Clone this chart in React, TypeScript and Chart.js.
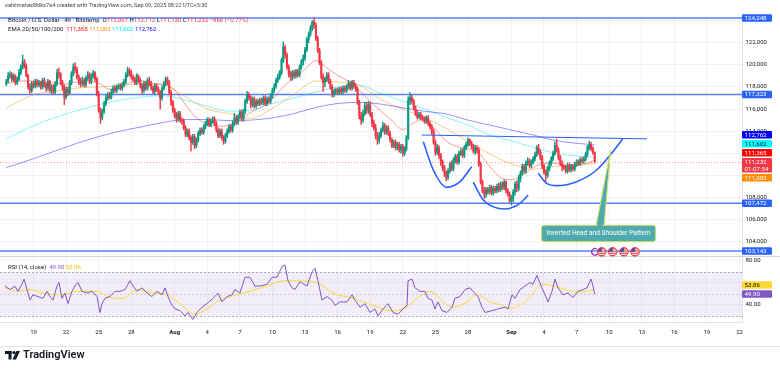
import React, { useEffect, useRef } from 'react';
import { Chart, registerables } from 'chart.js';

Chart.register(...registerables);

// ================= DATA =================
// Time unit: days since 1 Jul 2025 00:00 (chart-local). Prices in thousand USD.
const candleStart = 15.5;
const candlesPerDay = 6;
const firstOpen = 118.3;

const closes = [
  118.5, 119.0,
  119.1, 118.7, 119.0, 118.4, 118.7, 119.3,
  119.8, 120.3, 119.9, 119.0, 118.0, 117.7,
  118.3, 118.1, 118.5, 118.2, 118.4, 118.0,
  118.6, 118.2, 117.9, 118.5, 117.7, 118.0,
  117.6, 118.3, 119.3, 119.1, 118.4, 118.0,
  117.1, 117.8, 117.5, 118.4, 119.2, 119.8,
  119.6, 118.9, 118.5, 118.3, 118.6, 118.2,
  118.8, 119.1, 118.5, 119.0, 119.3, 118.7,
  117.4, 115.9, 115.2, 115.8, 116.5, 117.0,
  117.3, 117.1, 117.6, 117.9, 117.7, 118.0,
  118.1, 117.9, 118.2, 118.5, 119.1, 119.5,
  119.3, 118.9, 118.7, 118.4, 119.0, 118.6,
  118.1, 117.7, 118.3, 117.9, 118.6, 118.3,
  117.9, 117.6, 118.1, 117.8, 117.5, 117.0,
  117.9, 118.3, 118.7, 118.4, 117.5, 116.6,
  115.9, 115.4, 115.1, 115.6, 115.0, 114.9,
  114.3, 113.7, 114.0, 113.4, 113.0, 113.5,
  112.7, 113.2, 113.8, 114.1, 113.9, 114.4,
  114.7, 115.0, 114.6, 114.9, 115.1, 114.7,
  114.1, 113.6, 114.0, 113.4, 113.1, 113.6,
  114.0, 114.4, 114.1, 114.7, 115.2, 114.8,
  115.3, 115.7, 115.1, 115.8, 116.7, 117.3,
  117.0, 116.4, 116.9, 116.3, 116.7, 116.5,
  116.8, 116.6, 117.0, 116.5, 116.9, 116.7,
  117.2, 117.7, 118.1, 118.6, 118.9, 119.3,
  120.4, 121.6, 120.9, 119.8, 119.1, 118.9,
  119.3, 119.0, 119.4, 119.1, 119.8, 120.3,
  120.6, 121.4, 122.3, 122.8, 123.3, 123.9,
  123.6, 122.4, 121.3, 120.2, 118.9, 118.4,
  118.7, 119.1, 118.5, 118.0, 117.4, 117.6,
  117.7, 117.5, 117.8, 117.6, 117.9, 117.7,
  118.0, 118.3, 117.9, 118.4, 118.1, 117.8,
  116.6, 115.4, 115.0, 115.6, 116.3, 115.9,
  116.4, 115.5, 114.7, 114.3, 113.6, 113.2,
  113.6, 114.1, 114.5, 113.9, 114.3, 113.8,
  113.2, 112.7, 113.0, 112.5, 112.8, 112.3,
  112.6, 112.0, 112.4, 113.4, 116.8, 117.0,
  116.7, 116.1, 115.6, 115.3, 115.5, 115.2,
  115.1, 114.9, 115.2, 114.7, 114.4, 114.0,
  113.0, 112.1, 112.5, 111.8, 111.2, 110.7,
  110.2, 109.8, 110.4, 111.0, 110.6, 111.4,
  111.7, 111.2, 112.0, 112.2, 111.8, 112.5,
  112.8, 113.2, 112.9, 112.6, 112.2, 112.5,
  112.3, 111.0, 109.4, 108.6, 108.3, 108.7,
  108.5, 108.9, 108.4, 108.8, 108.6, 109.0,
  108.7, 109.2, 108.9, 109.4, 108.6, 108.3,
  107.7, 107.9, 108.5, 109.2, 108.8, 109.7,
  110.2, 110.8, 110.4, 111.1, 111.3, 110.9,
  111.2, 111.5, 111.9, 112.5, 112.1, 111.6,
  110.8, 110.3, 110.0, 110.6, 111.1, 111.5,
  112.0, 112.7, 112.3, 111.6, 111.1, 110.8,
  110.7, 110.4, 110.9, 110.5, 110.8, 110.6,
  111.0, 111.2, 111.1, 111.4, 111.3, 111.5,
  111.9, 112.5, 112.8, 112.4, 112.097, 111.232,
];

const highs = [
  118.7, 119.3,
  119.4, 119.3, 119.2, 119.1, 118.9, 119.6,
  120.0, 120.9, 120.5, 120.1, 119.2, 118.3,
  118.5, 118.5, 118.7, 118.7, 118.6, 118.5,
  118.8, 118.8, 118.4, 118.7, 118.6, 118.2,
  118.2, 118.5, 119.6, 119.7, 119.3, 118.6,
  118.2, 118.0, 118.0, 118.6, 119.4, 120.1,
  120.2, 119.8, 119.1, 118.8, 118.9, 118.8,
  119.0, 119.4, 119.3, 119.2, 119.5, 119.4,
  118.9, 117.6, 116.1, 116.0, 116.7, 117.3,
  117.5, 117.5, 117.8, 118.1, 118.1, 118.2,
  118.3, 118.3, 118.4, 118.7, 119.3, 119.8,
  119.7, 119.5, 119.1, 118.9, 119.2, 119.1,
  118.8, 118.3, 118.5, 118.5, 118.8, 118.9,
  118.5, 118.1, 118.3, 118.3, 118.0, 117.7,
  118.1, 118.5, 118.9, 118.9, 118.6, 117.7,
  116.8, 116.1, 115.7, 115.8, 115.8, 115.2,
  115.1, 114.5, 114.2, 114.2, 113.6, 113.7,
  113.7, 113.4, 114.0, 114.3, 114.3, 114.6,
  114.9, 115.2, 115.2, 115.1, 115.3, 115.3,
  114.9, 114.3, 114.2, 114.2, 113.6, 113.8,
  114.2, 114.6, 114.6, 114.9, 115.6, 115.4,
  115.5, 115.9, 115.9, 116.0, 116.9, 117.6,
  117.5, 117.2, 117.1, 117.1, 116.9, 116.9,
  117.0, 117.0, 117.2, 117.2, 117.1, 117.1,
  117.4, 117.9, 118.3, 118.8, 119.2, 119.5,
  120.6, 122.1, 121.8, 121.1, 120.0, 119.4,
  119.5, 119.5, 119.6, 119.6, 120.0, 120.5,
  120.9, 121.6, 122.5, 123.0, 123.6, 124.0,
  124.248, 123.8, 122.6, 121.5, 120.4, 119.2,
  118.9, 119.3, 119.3, 118.7, 118.2, 117.8,
  117.9, 117.9, 118.0, 118.0, 118.1, 118.1,
  118.2, 118.6, 118.5, 118.6, 118.6, 118.3,
  118.0, 116.8, 115.7, 115.9, 116.6, 116.6,
  116.7, 116.6, 115.7, 115.0, 114.6, 113.9,
  113.9, 114.3, 114.8, 114.7, 114.5, 114.5,
  114.0, 113.4, 113.2, 113.2, 113.0, 113.0,
  112.8, 112.8, 112.6, 113.6, 117.1, 117.5,
  117.3, 116.9, 116.3, 115.9, 115.7, 115.7,
  115.4, 115.3, 115.4, 115.4, 114.9, 114.6,
  114.2, 113.2, 112.8, 112.7, 112.0, 111.4,
  110.9, 110.4, 110.6, 111.2, 111.3, 111.6,
  111.9, 111.9, 112.2, 112.4, 112.4, 112.7,
  113.0, 113.4, 113.3, 113.1, 112.8, 112.7,
  112.7, 112.5, 111.2, 109.6, 108.9, 108.9,
  108.9, 109.1, 109.1, 109.0, 109.0, 109.2,
  109.3, 109.4, 109.4, 109.6, 109.5, 108.8,
  108.5, 108.2, 108.7, 109.4, 109.5, 110.0,
  110.4, 111.0, 111.0, 111.3, 111.6, 111.5,
  111.4, 111.7, 112.1, 112.7, 112.8, 112.3,
  111.8, 111.0, 110.5, 110.8, 111.3, 111.7,
  112.2, 113.0, 113.3, 112.5, 111.8, 111.3,
  111.0, 110.9, 111.1, 111.1, 111.0, 111.0,
  111.2, 111.4, 111.4, 111.6, 111.6, 111.7,
  112.1, 112.7, 113.1, 113.0, 112.6, 112.112,
];

const lows = [
  118.1, 118.4,
  118.8, 118.5, 118.5, 118.2, 118.2, 118.6,
  119.1, 119.6, 119.7, 118.9, 117.8, 117.4,
  117.5, 117.9, 117.9, 118.0, 118.0, 117.8,
  117.8, 118.0, 117.6, 117.7, 117.5, 117.4,
  117.3, 117.4, 118.1, 118.8, 118.2, 117.7,
  116.4, 116.9, 117.2, 117.3, 118.2, 119.0,
  119.3, 118.7, 118.2, 118.0, 118.1, 118.0,
  118.0, 118.6, 118.3, 118.3, 118.8, 118.5,
  117.2, 115.7, 114.7, 115.0, 115.6, 116.3,
  116.8, 116.9, 116.9, 117.4, 117.5, 117.5,
  117.8, 117.7, 117.7, 118.0, 118.3, 118.9,
  119.0, 118.7, 118.5, 118.2, 118.2, 118.4,
  117.9, 117.4, 117.5, 117.7, 117.7, 118.1,
  117.7, 117.4, 117.4, 117.6, 117.3, 116.0,
  116.8, 117.7, 118.1, 118.2, 117.3, 116.3,
  115.7, 115.2, 114.8, 114.9, 114.8, 114.6,
  114.1, 113.5, 113.5, 113.2, 112.2, 112.8,
  112.4, 112.5, 113.0, 113.6, 113.7, 113.7,
  114.2, 114.5, 114.4, 114.4, 114.7, 114.5,
  113.9, 113.4, 113.4, 113.2, 112.8, 112.9,
  113.4, 113.8, 113.9, 113.9, 114.5, 114.6,
  114.6, 115.1, 114.9, 114.9, 115.6, 116.5,
  116.8, 116.1, 116.2, 116.1, 116.1, 116.3,
  116.3, 116.4, 116.4, 116.3, 116.3, 116.5,
  116.5, 117.0, 117.5, 117.9, 118.4, 118.7,
  119.1, 120.2, 120.6, 119.6, 118.9, 118.6,
  118.6, 118.8, 118.8, 118.9, 118.9, 119.6,
  120.0, 120.4, 121.2, 122.0, 122.6, 123.1,
  123.3, 122.2, 121.1, 120.0, 118.7, 117.6,
  118.0, 118.5, 118.3, 117.8, 117.1, 117.1,
  117.3, 117.3, 117.3, 117.4, 117.4, 117.5,
  117.5, 117.8, 117.7, 117.7, 117.9, 117.6,
  116.4, 115.1, 114.6, 114.8, 115.4, 115.6,
  115.6, 115.3, 114.4, 114.1, 113.3, 112.8,
  112.9, 113.4, 113.9, 113.7, 113.7, 113.6,
  113.0, 112.5, 112.5, 112.3, 112.3, 112.1,
  112.0, 111.7, 111.8, 112.2, 113.2, 116.4,
  116.5, 115.9, 115.4, 115.1, 115.1, 115.0,
  114.9, 114.7, 114.7, 114.5, 114.2, 113.7,
  112.8, 111.8, 111.9, 111.5, 110.9, 110.4,
  109.9, 109.5, 109.6, 110.2, 110.4, 110.4,
  111.1, 111.0, 111.0, 111.8, 111.6, 111.6,
  112.3, 112.6, 112.7, 112.4, 112.0, 111.9,
  112.0, 110.8, 109.2, 108.4, 107.9, 108.0,
  108.3, 108.3, 108.2, 108.2, 108.4, 108.4,
  108.5, 108.5, 108.7, 108.7, 108.4, 108.1,
  107.5, 107.3, 107.6, 108.2, 108.5, 108.6,
  109.4, 110.0, 110.2, 110.2, 110.9, 110.7,
  110.7, 111.0, 111.3, 111.7, 111.9, 111.4,
  110.6, 110.1, 109.5, 109.8, 110.4, 110.9,
  111.3, 111.8, 112.1, 111.4, 110.9, 110.4,
  110.5, 110.2, 110.2, 110.3, 110.3, 110.4,
  110.4, 110.8, 110.9, 110.9, 111.1, 111.1,
  111.3, 111.7, 112.3, 112.2, 111.9, 111.130,
];

const emaDailyTimes = [
  15.5, 16, 17, 18, 19, 20, 21, 22, 23, 24, 25, 26, 27, 28, 29, 30, 31, 32, 33, 34,
  35, 36, 37, 38, 39, 40, 41, 42, 43, 44, 45, 46, 47, 48, 49, 50, 51, 52, 53, 54,
  55, 56, 57, 58, 59, 60, 61, 62, 63, 64, 65, 66, 67, 68, 69, 69.67,
];
const ema20 = [
  118.3, 118.4, 118.55, 118.55, 118.45, 118.35, 118.25, 118.45, 118.45, 118.35,
  117.8, 117.9, 118.45, 118.55, 118.3, 118.2, 117.7, 116.4, 115.2, 114.65,
  114.45, 114.5, 115.05, 115.7, 116.2, 116.9, 118.0, 118.85, 119.6, 120.4,
  119.75, 119.05, 118.5, 117.7, 116.7, 115.8, 114.95, 114.15, 114.75, 115.1,
  114.15, 113.1, 112.6, 112.4, 112.0, 110.8, 109.8, 109.6, 110.0, 110.7,
  111.1, 111.1, 110.8, 110.9, 111.1, 111.365,
];

const emaCoarseTimes = [
  15.5, 18, 20, 22, 24, 26, 28, 30, 32, 34, 36, 38, 40, 42,
  44, 46, 48, 50, 52, 54, 56, 58, 60, 62, 64, 66, 68, 69.67,
];
const ema50 = [
  116.1, 117.3, 117.6, 117.9, 118.0, 118.15, 118.3, 118.2, 117.1, 116.0, 115.6, 115.15, 116.05, 117.35,
  118.55, 118.45, 118.15, 116.85, 116.0, 115.2, 114.25, 113.05, 111.95, 111.05, 110.55, 110.8, 110.9, 111.083,
];
const ema100 = [
  113.3, 114.5, 115.25, 115.85, 116.4, 116.8, 117.1, 117.2, 116.8, 116.25, 115.8, 115.9, 116.5, 117.0,
  117.55, 118.0, 118.15, 117.4, 116.7, 116.0, 115.25, 114.55, 113.65, 113.1, 112.55, 112.0, 111.75, 111.602,
];
const ema200 = [
  110.7, 111.5, 112.2, 112.9, 113.5, 114.0, 114.4, 114.8, 115.05, 115.05, 114.95, 115.0, 115.2, 115.6,
  116.15, 116.5, 116.6, 116.45, 116.1, 115.8, 115.55, 115.0, 114.55, 114.1, 113.65, 113.15, 112.9, 112.762,
];

const rsiTimes = [
  15.38, 15.84, 16.30, 16.57, 16.94, 17.13, 17.40, 17.68, 17.95, 18.41,
  18.87, 19.24, 19.52, 19.80, 20.16, 20.35, 20.62, 20.90, 21.18, 21.54,
  21.91, 22.10, 22.47, 22.93, 23.39, 23.85, 24.12, 24.31, 24.58, 25.04,
  25.50, 25.96, 26.42, 26.88, 27.16, 27.53, 27.99, 28.45, 28.91, 29.37,
  29.83, 30.11, 30.38, 30.75, 31.03, 31.49, 31.95, 32.22, 32.68, 33.05,
  33.51, 33.97, 34.53, 34.99, 35.35, 35.81, 36.27, 36.55, 37.01, 37.47,
  37.93, 38.39, 38.85, 39.50, 39.96, 40.42, 40.88, 41.15, 41.43, 41.80,
  42.07, 42.53, 43.18, 43.64, 43.92, 44.19, 44.56, 45.02, 45.48, 45.76,
  46.22, 46.86, 47.32, 47.60, 48.06, 48.52, 48.98, 49.44, 49.72, 50.18,
  50.64, 51.10, 51.56, 52.02, 52.39, 52.48, 52.85, 53.12, 53.58, 54.04,
  54.32, 54.69, 54.96, 55.24, 55.61, 56.07, 56.53, 56.80, 57.27, 57.73,
  58.19, 58.46, 58.92, 59.29, 59.57, 60.21, 60.77, 61.41, 61.69, 62.05,
  62.33, 62.79, 63.25, 63.71, 63.98, 64.35, 64.81, 65.37, 65.74, 66.01,
  66.29, 66.75, 67.21, 67.67, 68.13, 68.59, 68.96, 69.33, 69.51, 69.67,
];
const rsiValues = [
  57.2, 54, 57, 52.4, 58.8, 63.6, 54, 44.4, 49.2, 47.6,
  46, 52.4, 47.6, 44.4, 57.2, 60.4, 46, 50.8, 41.2, 52.4,
  58.8, 60.4, 52.4, 50.8, 52.4, 47.6, 33.2, 41.2, 46, 47.6,
  52.4, 52.4, 54, 62, 57.2, 52.4, 55.6, 50.8, 47.6, 52.4,
  49.2, 55.6, 47.6, 39.6, 36.4, 34.8, 30, 33.2, 26.8, 33.2,
  38, 41.2, 46, 50.8, 42.8, 47.6, 49.2, 54, 50.8, 65.2,
  65.2, 57.2, 57.2, 58.8, 65.2, 65.2, 74.8, 76.4, 62, 55.6,
  54, 61, 57.2, 70, 73.2, 62, 44.4, 47.6, 44.4, 39.6,
  42.8, 42.8, 49.2, 44.4, 38, 41.2, 33.2, 36.4, 30, 36.4,
  41.2, 33.2, 31.6, 36.4, 39.6, 62, 63.6, 55.6, 52.4, 52.4,
  46, 44.4, 36.4, 42.8, 34.8, 33.2, 38, 46, 47.6, 54,
  55.6, 52.4, 47.6, 38, 33.2, 34.8, 36.4, 38, 36.4, 49.2,
  46, 54, 57.2, 60.4, 58.8, 66.8, 55.6, 42.8, 52.4, 63.6,
  55.6, 49.2, 50.8, 46.8, 52.4, 54, 55.6, 63.6, 57.2, 49.9,
];
const rsiMaTimes = [
  15.38, 16.48, 17.68, 18.87, 20.44, 22.00, 23.85, 25.04, 26.24, 27.53,
  28.73, 30.29, 31.49, 32.87, 33.97, 35.17, 36.37, 37.93, 39.50, 40.97,
  42.53, 44.10, 45.57, 47.41, 49.26, 50.82, 52.02, 53.31, 54.50, 55.70,
  56.62, 57.91, 58.83, 60.03, 61.22, 61.87, 63.43, 64.91, 66.47, 68.04, 69.67,
];
const rsiMaValues = [
  55.6, 52.4, 54, 50.8, 49.2, 52.4, 52.4, 46.8, 46, 54,
  51.4, 49.2, 41.2, 31.6, 36.4, 44.4, 48.2, 52.4, 57.2, 62,
  62, 60.4, 50.8, 46, 39.6, 34.8, 36.4, 46, 52.4, 42.8,
  38, 42.8, 49.2, 42.8, 39.6, 37, 44.4, 58.8, 55.6, 51.4, 53.86,
];

// Drawn levels and pattern (time, price)
const levelPrices = [124.248, 117.323, 107.472, 103.143];
const necklineTimes = [53.74, 74.48];
const necklinePrices = [113.65, 113.3];
const leftShoulderTimes = [53.89, 54.81, 56.04, 57.27, 58.34];
const leftShoulderPrices = [113.04, 110.48, 108.91, 109.42, 110.78];
const headTimes = [58.49, 59.41, 61.41, 62.79, 63.55];
const headPrices = [109.37, 107.76, 106.95, 107.46, 108.21];
const rightShoulderTimes = [64.47, 65.25, 66.17, 68.01, 69.85, 71.23, 72.24];
const rightShoulderPrices = [110.18, 109.27, 109.06, 109.42, 110.48, 111.99, 113.29];
const calloutText = 'Inverted Head and Shoulder Pattern';
const calloutTip = [71.14, 112.29];
const calloutCenter = [70.02, 104.73];
const eventTimes = [70.31, 71.32, 72.36, 73.38];
const eventMarkerTime = 69.69;

// Axes
const xTickValues = [18, 21, 24, 27, 31, 34, 37, 40, 43, 46, 49, 52, 55, 58, 62, 65, 68, 71, 74, 77, 80, 83];
const xTickLabels = ['19', '22', '25', '28', 'Aug', '4', '7', '10', '13', '16', '19', '22', '25', '28', 'Sep', '4', '7', '10', '13', '16', '19', '22'];
const monthLabels = ['Aug', 'Sep'];
const priceTickValues = [104, 106, 108, 110, 112, 114, 116, 118, 120, 122, 124];
const hiddenPriceTicks = [110, 112, 124];
const rsiTickValues = [40, 60, 80];
const hiddenRsiTicks = [60];
const rsiBand = [30, 50, 70];

// Texts
const headerText = 'sahilmahad8dks7a4 created with TradingView.com, Sep 09, 2025 08:22 UTC+5:30';
const symbolText = 'Bitcoin / U.S. Dollar · 4h · Bitstamp';
const changeText = '−866 (−0.77%)';
const countdownText = '01:07:54';

// ================= STYLE =================
const FONT = 'Roboto, "Noto Sans", "DejaVu Sans", sans-serif';
const TEXT = '#131722';
const UP = '#089981';
const DOWN = '#f23645';
const GRID = 'rgba(42,46,57,0.06)';
const LEVEL = '#2962ff';
const C20 = '#ff0000', C50 = '#ff8c00', C100 = '#00e5ff', C200 = '#0000ff';
const RSI_C = '#7e57c2', RSIMA_C = '#fdd835';

const X_MIN = 14.916, X_MAX = 83.23;
const PRICE_MIN = 102.69, PRICE_MAX = 124.70;
const RSI_MIN = 24.5, RSI_MAX = 84.5;

const fmtPrice = (v: number) => Math.round(v * 1000).toLocaleString('en-US');
const pts = (ts: number[], vs: number[]) => ts.map((t, i) => ({ x: t, y: vs[i] }));

function resolveLabels(items: any[]) {
  const GAP = 1.4;
  const s = items.slice().sort((a, b) => a.y - b.y);
  s.forEach((it) => (it.cy = it.y));
  let fi = s.findIndex((it) => it.fixed);
  if (fi < 0) fi = 0;
  for (let k = fi - 1; k >= 0; k--) {
    const nb = s[k + 1], it = s[k];
    const limit = nb.cy - nb.up - GAP;
    if (it.cy + it.down > limit) it.cy = limit - it.down;
  }
  for (let k = fi + 1; k < s.length; k++) {
    const pa = s[k - 1], it = s[k];
    const limit = pa.cy + pa.down + GAP;
    if (it.cy - it.up < limit) it.cy = limit + it.up;
  }
  return s;
}

function rrect(ctx: any, x: number, y: number, w: number, h: number, r: number) {
  ctx.beginPath();
  ctx.moveTo(x + r, y);
  ctx.lineTo(x + w - r, y);
  ctx.quadraticCurveTo(x + w, y, x + w, y + r);
  ctx.lineTo(x + w, y + h - r);
  ctx.quadraticCurveTo(x + w, y + h, x + w - r, y + h);
  ctx.lineTo(x + r, y + h);
  ctx.quadraticCurveTo(x, y + h, x, y + h - r);
  ctx.lineTo(x, y + r);
  ctx.quadraticCurveTo(x, y, x + r, y);
  ctx.closePath();
}

function drawParts(ctx: any, parts: any[], x: number, y: number) {
  let cx = x;
  parts.forEach(([t, c]) => {
    ctx.fillStyle = c;
    ctx.fillText(t, cx, y);
    cx += ctx.measureText(t).width;
  });
}

export default function App() {
  const ref = useRef<HTMLCanvasElement>(null);

  useEffect(() => {
    const canvas = ref.current;
    if (!canvas) return;

    const n = closes.length;
    const times = closes.map((_, i) => candleStart + i / candlesPerDay);
    const opens = closes.map((_, i) => (i === 0 ? firstOpen : closes[i - 1]));
    const colors = closes.map((c, i) => (c >= opens[i] ? UP : DOWN));
    const last = n - 1;

    const overlay = {
      id: 'tvOverlay',
      beforeDraw(chart: any) {
        const ctx = chart.ctx;
        ctx.save();
        ctx.fillStyle = '#ffffff';
        ctx.fillRect(0, 0, chart.width, chart.height);
        ctx.restore();
      },
      beforeDatasetsDraw(chart: any) {
        const { ctx, chartArea } = chart;
        const ys = chart.scales.y, rs = chart.scales.rsi;
        const L = chartArea.left, R = chartArea.right;
        ctx.save();
        // RSI band
        const y70 = rs.getPixelForValue(rsiBand[2]);
        const y30 = rs.getPixelForValue(rsiBand[0]);
        ctx.fillStyle = 'rgba(126,87,194,0.1)';
        ctx.fillRect(L, y70, R - L, y30 - y70);
        ctx.lineWidth = 1;
        ctx.setLineDash([2, 2]);
        ctx.strokeStyle = 'rgba(120,123,134,0.6)';
        [rsiBand[2], rsiBand[0]].forEach((v) => {
          const py = Math.round(rs.getPixelForValue(v)) + 0.5;
          ctx.beginPath(); ctx.moveTo(L, py); ctx.lineTo(R, py); ctx.stroke();
        });
        ctx.strokeStyle = 'rgba(120,123,134,0.3)';
        const y50 = Math.round(rs.getPixelForValue(rsiBand[1])) + 0.5;
        ctx.beginPath(); ctx.moveTo(L, y50); ctx.lineTo(R, y50); ctx.stroke();
        // current price line
        ctx.setLineDash([1, 2]);
        ctx.strokeStyle = 'rgba(242,54,69,0.55)';
        const cp = Math.round(ys.getPixelForValue(closes[last])) + 0.5;
        ctx.beginPath(); ctx.moveTo(L, cp); ctx.lineTo(R, cp); ctx.stroke();
        ctx.setLineDash([]);
        // horizontal levels
        ctx.strokeStyle = 'rgba(41,98,255,0.8)';
        ctx.lineWidth = 1.6;
        levelPrices.forEach((p) => {
          const py = ys.getPixelForValue(p);
          ctx.beginPath(); ctx.moveTo(L, py); ctx.lineTo(R, py); ctx.stroke();
        });
        ctx.restore();
      },
      afterDatasetsDraw(chart: any) {
        const { ctx } = chart;
        const xs = chart.scales.x, ys = chart.scales.y;
        ctx.save();
        // pane separator
        ctx.strokeStyle = '#d1d4dc';
        ctx.lineWidth = 1;
        const sep = Math.round(ys.bottom) + 0.5;
        ctx.beginPath(); ctx.moveTo(0, sep); ctx.lineTo(chart.width, sep); ctx.stroke();
        const bot = Math.round(chart.scales.x.bottom) + 0.5;
        ctx.strokeStyle = '#e0e3eb';
        ctx.beginPath(); ctx.moveTo(0, bot); ctx.lineTo(chart.width, bot); ctx.stroke();

        // event icons
        const iy = ys.bottom - 4.2;
        const mx = xs.getPixelForValue(eventMarkerTime);
        ctx.strokeStyle = '#9c27b0';
        ctx.lineWidth = 1.2;
        ctx.beginPath(); ctx.arc(mx, iy, 3.2, 0.6, Math.PI * 1.7); ctx.stroke();
        eventTimes.forEach((t) => {
          const cx = xs.getPixelForValue(t);
          const r = 4.3;
          ctx.save();
          ctx.beginPath(); ctx.arc(cx, iy, r, 0, Math.PI * 2);
          ctx.fillStyle = '#ffffff'; ctx.fill();
          ctx.clip();
          ctx.fillStyle = '#e53935';
          for (let k = 0; k < 4; k++) ctx.fillRect(cx - r, iy - r + 0.8 + k * 2.2, 2 * r, 1.1);
          ctx.fillStyle = '#3f51b5';
          ctx.fillRect(cx - r, iy - r, r, r);
          ctx.restore();
          ctx.strokeStyle = '#f23645';
          ctx.lineWidth = 1;
          ctx.beginPath(); ctx.arc(cx, iy, r, 0, Math.PI * 2); ctx.stroke();
        });

        // callout
        const tipX = xs.getPixelForValue(calloutTip[0]);
        const tipY = ys.getPixelForValue(calloutTip[1]);
        const cx = xs.getPixelForValue(calloutCenter[0]);
        const cy = ys.getPixelForValue(calloutCenter[1]);
        ctx.font = `6.6px ${FONT}`;
        const tw = ctx.measureText(calloutText).width;
        const bw = tw + 10, bh = 16.5;
        const bx = cx - bw / 2, by = cy - bh / 2;
        ctx.fillStyle = '#4eaaad';
        ctx.strokeStyle = '#d6e06a';
        ctx.lineWidth = 1;
        ctx.beginPath();
        ctx.moveTo(cx - 2.5, by + 1);
        ctx.lineTo(tipX, tipY);
        ctx.lineTo(cx + 5.5, by + 1);
        ctx.closePath();
        ctx.fill(); ctx.stroke();
        rrect(ctx, bx, by, bw, bh, 3);
        ctx.fill(); ctx.stroke();
        ctx.beginPath();
        ctx.moveTo(cx - 1.8, by + 1.5); ctx.lineTo(cx + 4.8, by + 1.5); ctx.lineTo(cx + 1.5, by - 3);
        ctx.closePath(); ctx.fill();
        ctx.fillStyle = '#ffffff';
        ctx.textAlign = 'center';
        ctx.textBaseline = 'middle';
        ctx.fillText(calloutText, cx, cy + 0.3);
        ctx.restore();
      },
      afterDraw(chart: any) {
        const { ctx } = chart;
        const ys = chart.scales.y, rs = chart.scales.rsi;
        ctx.save();
        ctx.textBaseline = 'middle';
        ctx.textAlign = 'left';
        // header
        ctx.font = `5.6px ${FONT}`;
        ctx.fillStyle = '#434651';
        ctx.fillText(headerText, 5, 6);
        // legend 1
        ctx.font = `6px ${FONT}`;
        drawParts(ctx, [
          [symbolText + '  ', TEXT], ['O', TEXT], [fmtPrice(opens[last]), DOWN],
          [' H', TEXT], [fmtPrice(highs[last]), DOWN], [' L', TEXT], [fmtPrice(lows[last]), DOWN],
          [' C', TEXT], [fmtPrice(closes[last]), DOWN], [' ' + changeText, DOWN],
        ], 8, 20.5);
        drawParts(ctx, [
          ['EMA 20/50/100/200  ', TEXT],
          [fmtPrice(ema20[ema20.length - 1]) + ' ', C20],
          [fmtPrice(ema50[ema50.length - 1]) + ' ', C50],
          [fmtPrice(ema100[ema100.length - 1]) + ' ', C100],
          [fmtPrice(ema200[ema200.length - 1]), C200],
        ], 8, 29.5);
        drawParts(ctx, [
          ['RSI (14, close)  ', TEXT],
          [rsiValues[rsiValues.length - 1].toFixed(2) + ' ', RSI_C],
          [rsiMaValues[rsiMaValues.length - 1].toFixed(2), '#e6c200'],
        ], 8, 267.5);

        // axis labels (price)
        const ax = ys.left, aw = 30;
        const priceItems: any[] = levelPrices.map((p) => ({ y: ys.getPixelForValue(p), up: 3.8, down: 3.8, lines: [fmtPrice(p)], bg: LEVEL, fg: '#fff' }));
        priceItems.push({ y: ys.getPixelForValue(ema200[ema200.length - 1]), up: 3.8, down: 3.8, lines: [fmtPrice(ema200[ema200.length - 1])], bg: C200, fg: '#fff' });
        priceItems.push({ y: ys.getPixelForValue(ema100[ema100.length - 1]), up: 3.8, down: 3.8, lines: [fmtPrice(ema100[ema100.length - 1])], bg: '#00ffff', fg: TEXT });
        priceItems.push({ y: ys.getPixelForValue(ema20[ema20.length - 1]), up: 3.8, down: 3.8, lines: [fmtPrice(ema20[ema20.length - 1])], bg: C20, fg: '#fff' });
        priceItems.push({ y: ys.getPixelForValue(closes[last]), up: 3.8, down: 10.8, lines: [fmtPrice(closes[last]), countdownText], bg: '#f23645', fg: '#fff', fixed: true });
        priceItems.push({ y: ys.getPixelForValue(ema50[ema50.length - 1]), up: 3.8, down: 3.8, lines: [fmtPrice(ema50[ema50.length - 1])], bg: C50, fg: '#fff' });
        const rsiItems: any[] = [
          { y: rs.getPixelForValue(rsiMaValues[rsiMaValues.length - 1]), up: 3.8, down: 3.8, lines: [rsiMaValues[rsiMaValues.length - 1].toFixed(2)], bg: RSIMA_C, fg: TEXT },
          { y: rs.getPixelForValue(rsiValues[rsiValues.length - 1]), up: 3.8, down: 3.8, lines: [rsiValues[rsiValues.length - 1].toFixed(2)], bg: RSI_C, fg: '#fff', fixed: true },
        ];
        ctx.font = `6.2px ${FONT}`;
        [resolveLabels(priceItems), resolveLabels(rsiItems)].forEach((list) => {
          list.forEach((it: any) => {
            ctx.fillStyle = it.bg;
            rrect(ctx, ax, it.cy - it.up, aw, it.up + it.down, 1.2);
            ctx.fill();
            ctx.fillStyle = it.fg;
            it.lines.forEach((ln: string, k: number) => ctx.fillText(ln, ax + 2.5, it.cy + 0.3 + k * 7));
          });
        });

        // TradingView logo
        ctx.fillStyle = TEXT;
        ctx.fillRect(5, 351, 6.5, 3);
        ctx.fillRect(8.5, 351, 3, 8.5);
        ctx.beginPath(); ctx.arc(14, 352.6, 1.6, 0, Math.PI * 2); ctx.fill();
        ctx.beginPath();
        ctx.moveTo(16.5, 351); ctx.lineTo(20, 351); ctx.lineTo(16, 359.5); ctx.lineTo(12.5, 359.5);
        ctx.closePath(); ctx.fill();
        ctx.font = `600 11px ${FONT}`;
        ctx.fillText('TradingView', 23, 355.5);
        ctx.restore();
      },
    };

    const lineBase = { type: 'line', pointRadius: 0, borderWidth: 1, fill: false, yAxisID: 'y' };

    const chart = new Chart(canvas, {
      type: 'bar',
      data: {
        datasets: [
          { ...lineBase, label: 'EMA200', data: pts(emaCoarseTimes, ema200), borderColor: 'rgba(0,0,255,0.42)', cubicInterpolationMode: 'monotone', order: 5 },
          { ...lineBase, label: 'EMA100', data: pts(emaCoarseTimes, ema100), borderColor: 'rgba(0,229,255,0.45)', cubicInterpolationMode: 'monotone', order: 5 },
          { ...lineBase, label: 'EMA50', data: pts(emaCoarseTimes, ema50), borderColor: 'rgba(255,140,0,0.45)', cubicInterpolationMode: 'monotone', order: 5 },
          { ...lineBase, label: 'EMA20', data: pts(emaDailyTimes, ema20), borderColor: 'rgba(255,0,0,0.4)', cubicInterpolationMode: 'monotone', order: 5 },
          {
            type: 'bar', label: 'wicks', yAxisID: 'y', order: 4, grouped: false,
            data: times.map((t, i) => ({ x: t, y: [lows[i], highs[i]] })),
            backgroundColor: colors, barThickness: 0.8, borderWidth: 0,
          },
          {
            type: 'bar', label: 'bodies', yAxisID: 'y', order: 3, grouped: false,
            data: times.map((t, i) => ({ x: t, y: [opens[i], closes[i]] })),
            backgroundColor: colors, barThickness: 1.4, borderWidth: 0, minBarLength: 1,
          },
          { ...lineBase, label: 'neck', data: pts(necklineTimes, necklinePrices), borderColor: LEVEL, borderWidth: 1, order: 1 },
          { ...lineBase, label: 'ls', data: pts(leftShoulderTimes, leftShoulderPrices), borderColor: LEVEL, borderWidth: 1.6, cubicInterpolationMode: 'monotone', order: 1 },
          { ...lineBase, label: 'head', data: pts(headTimes, headPrices), borderColor: LEVEL, borderWidth: 1.6, cubicInterpolationMode: 'monotone', order: 1 },
          { ...lineBase, label: 'rs', data: pts(rightShoulderTimes, rightShoulderPrices), borderColor: LEVEL, borderWidth: 1.6, cubicInterpolationMode: 'monotone', order: 1 },
          { ...lineBase, label: 'RSI MA', yAxisID: 'rsi', data: pts(rsiMaTimes, rsiMaValues), borderColor: RSIMA_C, cubicInterpolationMode: 'monotone', order: 2 },
          { ...lineBase, label: 'RSI', yAxisID: 'rsi', data: pts(rsiTimes, rsiValues), borderColor: RSI_C, order: 1 },
        ] as any,
      },
      options: {
        responsive: false,
        maintainAspectRatio: false,
        animation: false,
        devicePixelRatio: 1,
        events: [],
        layout: { padding: { top: 13, bottom: 24, left: 0, right: 0 } },
        plugins: { legend: { display: false }, tooltip: { enabled: false } },
        scales: {
          x: {
            type: 'linear', position: 'bottom', min: X_MIN, max: X_MAX, offset: false,
            afterBuildTicks: (s: any) => { s.ticks = xTickValues.map((v) => ({ value: v })); },
            afterFit: (s: any) => { s.height = 24; },
            ticks: {
              autoSkip: false, maxRotation: 0, padding: 7, color: TEXT,
              font: (c: any) => ({ family: FONT, size: 6, weight: c.tick && monthLabels.includes(xTickLabels[xTickValues.indexOf(c.tick.value)]) ? 'bold' : 'normal' }),
              callback: (_v: any, i: number) => xTickLabels[i],
            },
            grid: { color: GRID, drawTicks: false, offset: false },
            border: { display: true, color: '#e0e3eb' },
          },
          y: {
            type: 'linear', position: 'right', stack: 'panes', stackWeight: 243,
            min: PRICE_MIN, max: PRICE_MAX,
            afterBuildTicks: (s: any) => { s.ticks = priceTickValues.map((v) => ({ value: v })); },
            afterFit: (s: any) => { s.width = 38; },
            ticks: {
              padding: 3.5, color: TEXT, font: { family: FONT, size: 6 },
              callback: (v: any) => (hiddenPriceTicks.includes(v) ? '' : fmtPrice(v)),
            },
            grid: { color: GRID, drawTicks: false },
            border: { display: true, color: '#e0e3eb' },
          },
          rsi: {
            type: 'linear', position: 'right', stack: 'panes', stackWeight: 66,
            min: RSI_MIN, max: RSI_MAX,
            afterBuildTicks: (s: any) => { s.ticks = rsiTickValues.map((v) => ({ value: v })); },
            afterFit: (s: any) => { s.width = 38; },
            ticks: {
              padding: 3.5, color: TEXT, font: { family: FONT, size: 6 },
              callback: (v: any) => (hiddenRsiTicks.includes(v) ? '' : Number(v).toFixed(2)),
            },
            grid: { color: GRID, drawTicks: false },
            border: { display: true, color: '#e0e3eb' },
          },
        },
      } as any,
      plugins: [overlay],
    } as any);

    return () => chart.destroy();
  }, []);

  return (
    <div style={{ position: 'fixed', left: 0, top: 0, width: 780, height: 370, background: '#ffffff' }}>
      <canvas ref={ref} width={780} height={370} style={{ display: 'block', width: 780, height: 370 }} />
    </div>
  );
}
